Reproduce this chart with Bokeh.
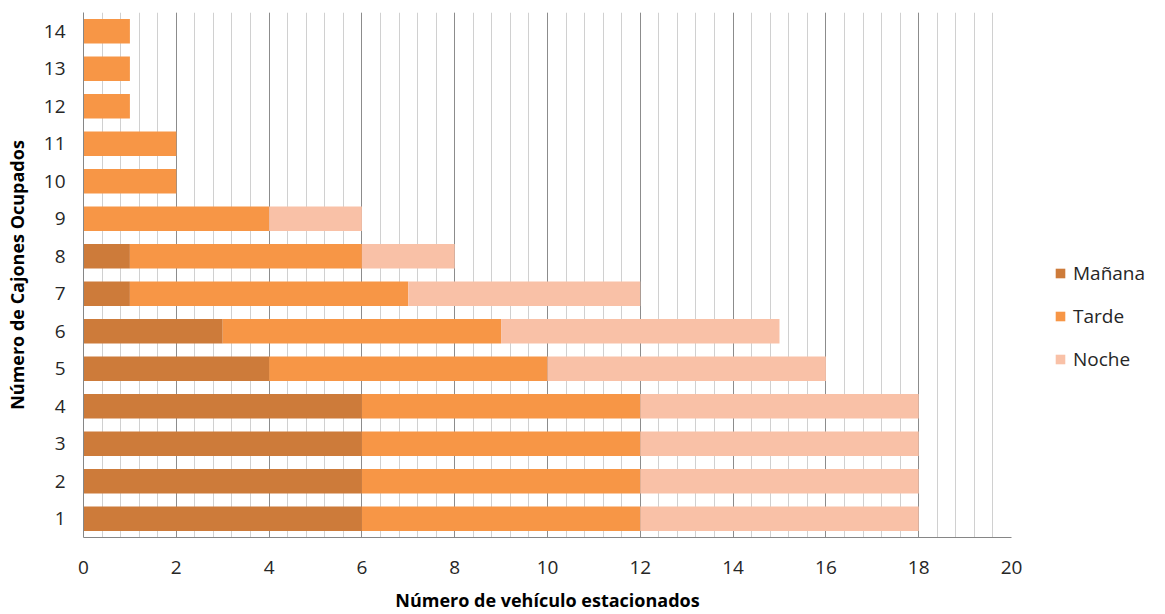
from bokeh.plotting import figure
from bokeh.models import ColumnDataSource, Legend, LegendItem, SingleIntervalTicker, Range1d, FactorRange
from bokeh.embed import file_html
from bokeh.resources import INLINE

categories = [str(i) for i in range(1, 15)]
manana = [6, 6, 6, 6, 4, 3, 1, 1, 0, 0, 0, 0, 0, 0]
tarde = [6, 6, 6, 6, 6, 6, 6, 5, 4, 2, 2, 1, 1, 1]
noche = [6, 6, 6, 6, 6, 6, 5, 2, 2, 0, 0, 0, 0, 0]
series = ["Mañana", "Tarde", "Noche"]
colors = ["#CD7B3A", "#F79646", "#F9C1A7"]

source = ColumnDataSource(dict(cat=categories, **{"Mañana": manana, "Tarde": tarde, "Noche": noche}))

FONT = "Open Sans"
p = figure(frame_width=928, frame_height=525, output_backend="svg", toolbar_location=None,
           y_range=FactorRange(factors=categories), x_range=Range1d(0, 20),
           min_border_left=83, min_border_top=12, min_border_bottom=60, min_border_right=138)
p.outline_line_color = None

renderers = p.hbar_stack(series, y="cat", height=0.65, color=colors, line_color=None, source=source)

p.xaxis.ticker = SingleIntervalTicker(interval=2, num_minor_ticks=5)
p.xgrid.grid_line_color = "#8c8c8c"
p.xgrid.minor_grid_line_color = "#d0d0d0"
p.ygrid.grid_line_color = None

for ax in (p.xaxis[0], p.yaxis[0]):
    ax.axis_line_color = "#868686"
    ax.major_tick_line_color = None
    ax.minor_tick_line_color = None
    ax.major_tick_out = 0
    ax.major_tick_in = 0
    ax.minor_tick_out = 0
    ax.minor_tick_in = 0
    ax.major_label_text_font = FONT
    ax.major_label_text_font_size = "19px"
    ax.major_label_text_color = "#262626"
    ax.axis_label_text_font = FONT
    ax.axis_label_text_font_size = "18px"
    ax.axis_label_text_font_style = "bold"
    ax.axis_label_text_color = "#000000"

p.xaxis.axis_label = "Número de vehículo estacionados"
p.yaxis.axis_label = "Número de Cajones Ocupados"
p.xaxis.major_label_standoff = 23
p.xaxis.axis_label_standoff = 11
p.yaxis.major_label_standoff = 18
p.yaxis.axis_label_standoff = 12

items = [LegendItem(label=s, renderers=[r]) for s, r in zip(series, renderers)]
legend = Legend(items=items, location=(43, 165), glyph_width=12, glyph_height=12,
                label_text_font=FONT, label_text_font_size="19px", label_text_color="#262626",
                spacing=17, padding=0, margin=0, border_line_color=None, background_fill_alpha=0,
                label_standoff=7)
p.add_layout(legend, "right")

open("out.html", "w").write(file_html(p, INLINE))
